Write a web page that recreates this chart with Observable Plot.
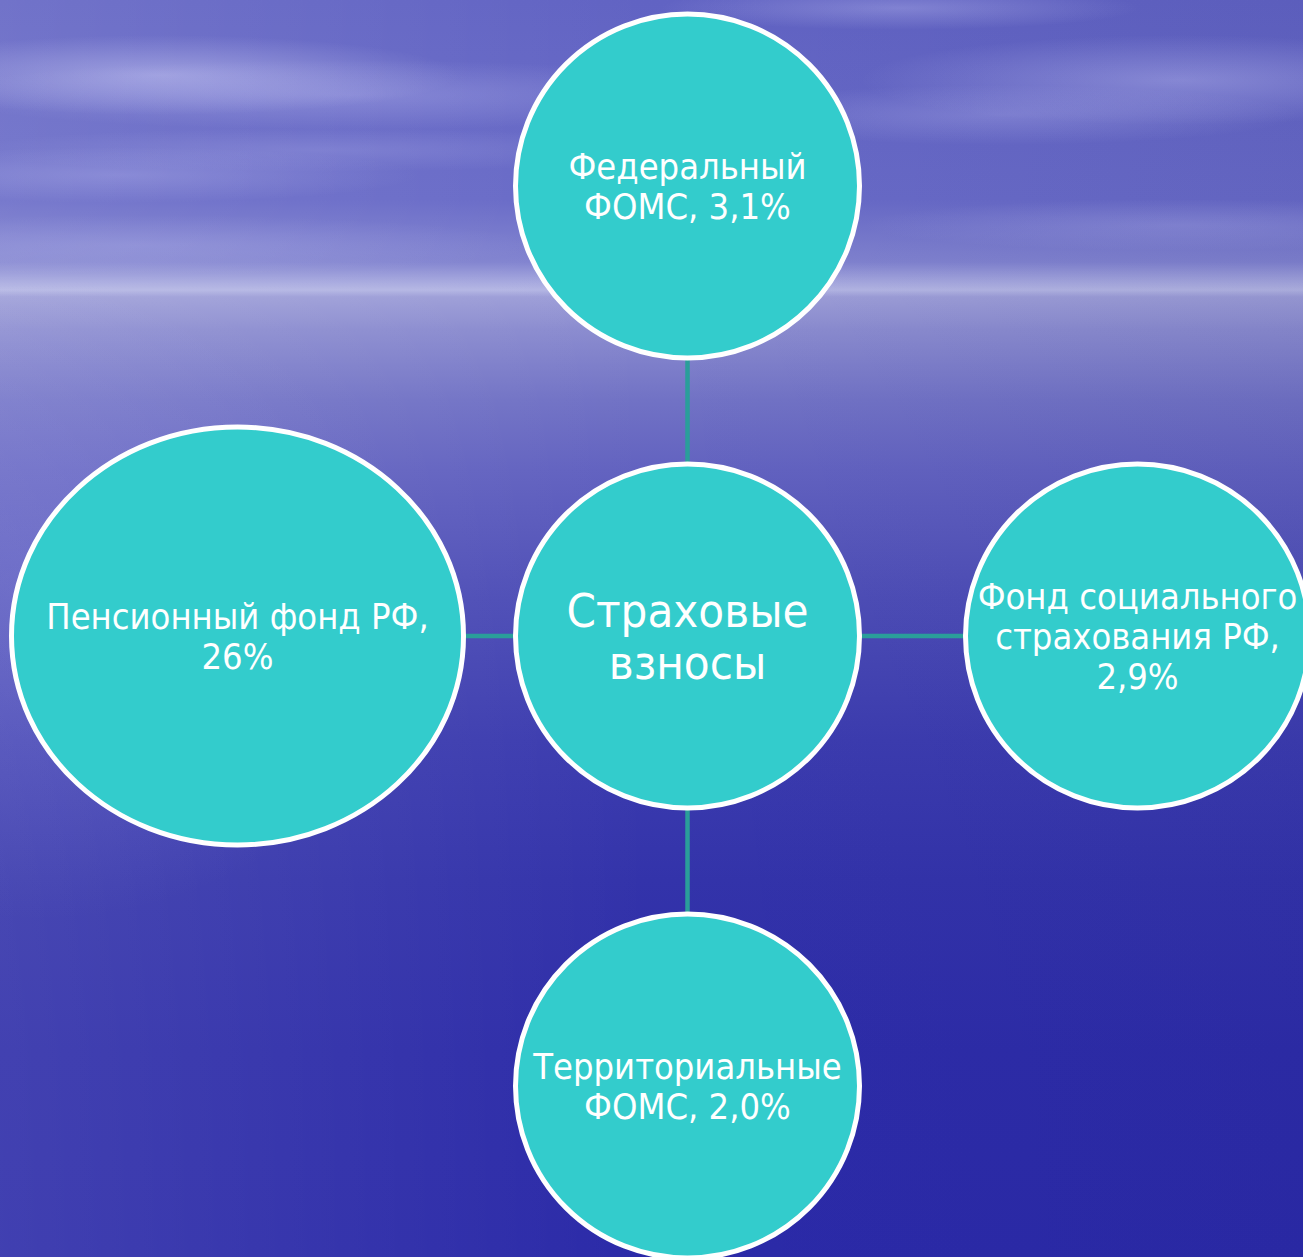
<!DOCTYPE html>
<html lang="ru">
<head>
<meta charset="utf-8">
<script src="https://cdn.jsdelivr.net/npm/d3@7"></script>
<script src="https://cdn.jsdelivr.net/npm/@observablehq/plot@0.6"></script>
<style>
  html, body { margin: 0; padding: 0; overflow: hidden; }
  body {
    width: 1303px; height: 1257px;
    background:
      radial-gradient(ellipse 300px 40px at 160px 75px, rgba(225,225,255,0.40), rgba(225,225,255,0) 100%),
      radial-gradient(ellipse 420px 35px at 350px 95px, rgba(215,215,255,0.25), rgba(215,215,255,0) 100%),
      radial-gradient(ellipse 320px 45px at 1180px 80px, rgba(215,215,255,0.32), rgba(215,215,255,0) 100%),
      radial-gradient(ellipse 300px 30px at 1000px 115px, rgba(215,215,255,0.22), rgba(215,215,255,0) 100%),
      radial-gradient(ellipse 240px 22px at 900px 8px, rgba(215,215,255,0.28), rgba(215,215,255,0) 100%),
      radial-gradient(ellipse 300px 28px at 120px 175px, rgba(215,215,255,0.22), rgba(215,215,255,0) 100%),
      radial-gradient(ellipse 360px 22px at 320px 150px, rgba(215,215,255,0.16), rgba(215,215,255,0) 100%),
      radial-gradient(ellipse 320px 26px at 1180px 225px, rgba(215,215,255,0.16), rgba(215,215,255,0) 100%),
      radial-gradient(ellipse 400px 30px at 140px 245px, rgba(215,215,255,0.16), rgba(215,215,255,0) 100%),
      radial-gradient(ellipse 380px 320px at 40px 600px, rgba(150,150,230,0.28), rgba(150,150,230,0) 100%),
      linear-gradient(to right, rgba(255,255,255,0.10), rgba(255,255,255,0) 50%, rgba(10,10,80,0.06)),
      linear-gradient(to bottom,
        #6163c3 0px, #686ac7 200px, #8082cf 262px, #a5a7de 282px, #b3b5e3 290px,
        #9c9dd7 297px, #8a8bcf 330px, #7172c5 400px, #6262c0 470px,
        #4d4db6 600px, #3c3caf 740px, #3333aa 880px, #2d2ca8 1050px, #2b2aa8 1257px);
  }
  svg text { font-stretch: condensed; }
</style>
</head>
<body>
<div id="chart"></div>
<script>
// ---- data ----
const centerLabel = "Страховые\nвзносы";
const fundLabels = [
  "Федеральный\nФОМС, 3,1%",
  "Пенсионный фонд РФ,\n26%",
  "Фонд социального\nстрахования РФ,\n2,9%",
  "Территориальные\nФОМС, 2,0%"
];
const fundSides = ["up", "left", "right", "down"];

// ---- layout (code, not data) ----
const W = 1303, H = 1257;
const CX = 687, CY = 635.5, STEP = 450;
const offsets = {up: [0, -1], left: [-1, 0], right: [1, 0], down: [0, 1]};

const funds = fundLabels.map((label, i) => ({
  label,
  side: fundSides[i],
  col: offsets[fundSides[i]][0],
  row: offsets[fundSides[i]][1]
}));
const center = [{label: centerLabel, col: 0, row: 0}];

const K = 0.5522847498;
function ellipseSymbol(aspect) {
  return {
    draw(ctx, size) {
      const r = Math.sqrt(size / Math.PI);
      const rx = r * aspect, ry = r;
      ctx.moveTo(rx, 0);
      ctx.bezierCurveTo(rx, ry * K, rx * K, ry, 0, ry);
      ctx.bezierCurveTo(-rx * K, ry, -rx, ry * K, -rx, 0);
      ctx.bezierCurveTo(-rx, -ry * K, -rx * K, -ry, 0, -ry);
      ctx.bezierCurveTo(rx * K, -ry, rx, -ry * K, rx, 0);
      ctx.closePath();
    }
  };
}

const FILL = "#33cccc";
const LINK = "#2a9e9a";
const FONT = "Tahoma, 'DejaVu Sans Condensed', 'DejaVu Sans', sans-serif";
const SW = 5;

const plot = Plot.plot({
  width: W,
  height: H,
  margin: 0,
  style: {background: "transparent", overflow: "visible"},
  x: {domain: [-CX / STEP, (W - CX) / STEP], range: [0, W], axis: null},
  y: {domain: [-CY / STEP, (H - CY) / STEP], range: [0, H], axis: null},
  marks: [
    Plot.link(funds, {
      x1: () => 0, y1: () => 0,
      x2: "col", y2: "row",
      stroke: LINK, strokeWidth: 4.5
    }),
    Plot.dot(funds.filter(d => d.side !== "left"), {
      x: "col", y: "row", r: 172,
      fill: FILL, fillOpacity: 1, stroke: "white", strokeWidth: SW
    }),
    Plot.dot(funds.filter(d => d.side === "left"), {
      x: "col", y: "row", r: 209, symbol: ellipseSymbol(226 / 209),
      fill: FILL, fillOpacity: 1, stroke: "white", strokeWidth: SW
    }),
    Plot.dot(center, {
      x: "col", y: "row", r: 172,
      fill: FILL, fillOpacity: 1, stroke: "white", strokeWidth: SW
    }),
    Plot.text(funds, {
      x: "col", y: "row", text: "label",
      fill: "white", fontSize: 36, lineHeight: 1.11,
      fontFamily: FONT, textAnchor: "middle", lineAnchor: "middle"
    }),
    Plot.text(center, {
      x: "col", y: "row", text: "label",
      fill: "white", fontSize: 47, lineHeight: 1.11,
      fontFamily: FONT, textAnchor: "middle", lineAnchor: "middle"
    })
  ]
});
document.getElementById("chart").appendChild(plot);
</script>
</body>
</html>
